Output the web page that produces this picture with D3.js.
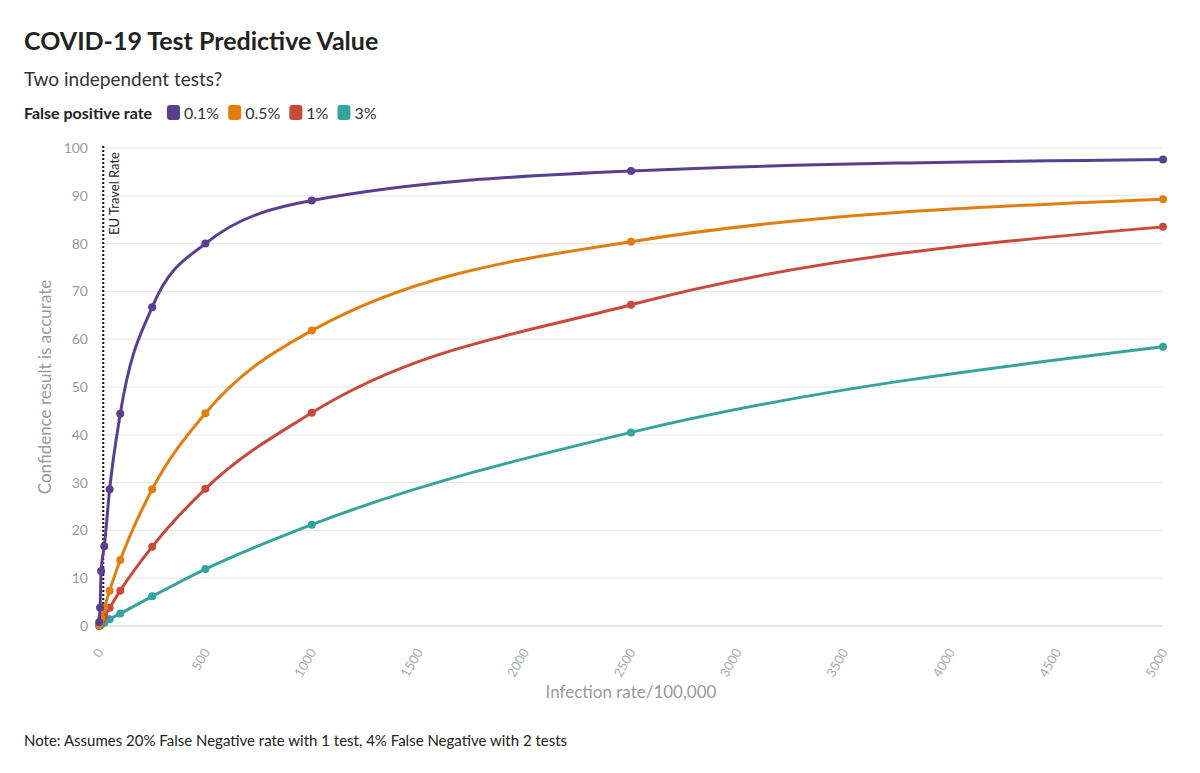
<!DOCTYPE html>
<html><head><meta charset="utf-8">
<script src="https://cdn.jsdelivr.net/npm/d3@7"></script>
<style>body{margin:0;background:#fff;font-family:"Source Sans Pro","Lato","Open Sans",sans-serif}</style>
</head><body><svg id="c" width="1200" height="773"></svg>
<script>
var xs = [1, 5, 10, 25, 50, 100, 250, 500, 1000, 2500, 5000];
var series = [
  {name: '0.1%', color: '#5b3f8f', values: [0.8, 3.8, 11.5, 16.7, 28.6, 44.4, 66.7, 80.0, 89.0, 95.2, 97.6]},
  {name: '0.5%', color: '#e07f10', values: [0.2, 0.8, 1.6, 3.8, 7.4, 13.8, 28.6, 44.5, 61.8, 80.4, 89.3]},
  {name: '1%', color: '#c9493a', values: [0.1, 0.4, 0.8, 2.0, 3.8, 7.4, 16.6, 28.7, 44.6, 67.2, 83.5]},
  {name: '3%', color: '#36a39f', values: [0.0, 0.1, 0.3, 0.7, 1.4, 2.6, 6.2, 11.9, 21.2, 40.5, 58.4]}
];
var xTicks = d3.range(0, 5001, 500);
var yTicks = d3.range(0, 101, 10);
var euRate = 20;

var svg = d3.select('#c');
var x = d3.scaleLinear().domain([0, 5000]).range([99, 1163]);
var y = d3.scaleLinear().domain([0, 100]).range([626, 148]);

svg.append('rect').attr('width', 1200).attr('height', 773).attr('fill', '#fff');
svg.append('text').attr('x', 24).attr('y', 50).attr('font-size', 25).attr('font-weight', 700).attr('fill', '#222').text('COVID-19 Test Predictive Value');
svg.append('text').attr('x', 24).attr('y', 86).attr('font-size', 19).attr('fill', '#333').text('Two independent tests?');

var leg = svg.append('g');
leg.append('text').attr('x', 24).attr('y', 119).attr('font-size', 16).attr('font-weight', 700).attr('fill', '#222').text('False positive rate');
var lx = 167;
series.forEach(function(s) {
  leg.append('rect').attr('x', lx).attr('y', 105).attr('width', 13).attr('height', 15).attr('rx', 3).attr('fill', s.color);
  var t = leg.append('text').attr('x', lx + 17).attr('y', 119).attr('font-size', 16).attr('fill', '#333').text(s.name);
  lx += 17 + t.node().getComputedTextLength() + 9;
});

svg.append('g').selectAll('line').data(yTicks).enter().append('line')
  .attr('x1', 99).attr('x2', 1163).attr('y1', y).attr('y2', y)
  .attr('stroke', d => d === 0 ? '#ccc' : '#e6e6e6');
svg.append('g').selectAll('text').data(yTicks).enter().append('text')
  .attr('x', 88).attr('y', d => y(d) + 5).attr('text-anchor', 'end').attr('font-size', 14).attr('fill', '#999').text(d => d);
svg.append('g').selectAll('text').data(xTicks).enter().append('text')
  .attr('transform', d => 'translate(' + (x(d) + 5) + ',652)rotate(-60)')
  .attr('text-anchor', 'end').attr('font-size', 13).attr('fill', '#aaa').text(d => d);

svg.append('text').attr('x', 631).attr('y', 698).attr('text-anchor', 'middle').attr('font-size', 17).attr('fill', '#999').text('Infection rate/100,000');
svg.append('text').attr('transform', 'translate(51,387)rotate(-90)').attr('text-anchor', 'middle').attr('font-size', 17).attr('fill', '#999').text('Confidence result is accurate');

svg.append('line').attr('x1', x(euRate)).attr('x2', x(euRate)).attr('y1', 146).attr('y2', 626)
  .attr('stroke', '#111').attr('stroke-width', 2).attr('stroke-dasharray', '2,2');
svg.append('text').attr('transform', 'translate(' + (x(euRate) + 16) + ',152)rotate(-90)').attr('text-anchor', 'end').attr('font-size', 13).attr('fill', '#222').text('EU Travel Rate');

var line = d3.line().x(d => x(d[0])).y(d => y(d[1])).curve(d3.curveMonotoneX);
series.slice().reverse().forEach(function(s) {
  var pts = xs.map((v, i) => [v, s.values[i]]);
  var g = svg.append('g');
  g.append('path').attr('d', line(pts)).attr('fill', 'none').attr('stroke', s.color).attr('stroke-width', 3);
  g.selectAll('circle').data(pts).enter().append('circle')
    .attr('cx', d => x(d[0])).attr('cy', d => y(d[1])).attr('r', 4).attr('fill', s.color);
});

svg.append('text').attr('x', 24).attr('y', 746).attr('font-size', 15).attr('fill', '#222')
  .text('Note: Assumes 20% False Negative rate with 1 test, 4% False Negative with 2 tests');
</script></body></html>
